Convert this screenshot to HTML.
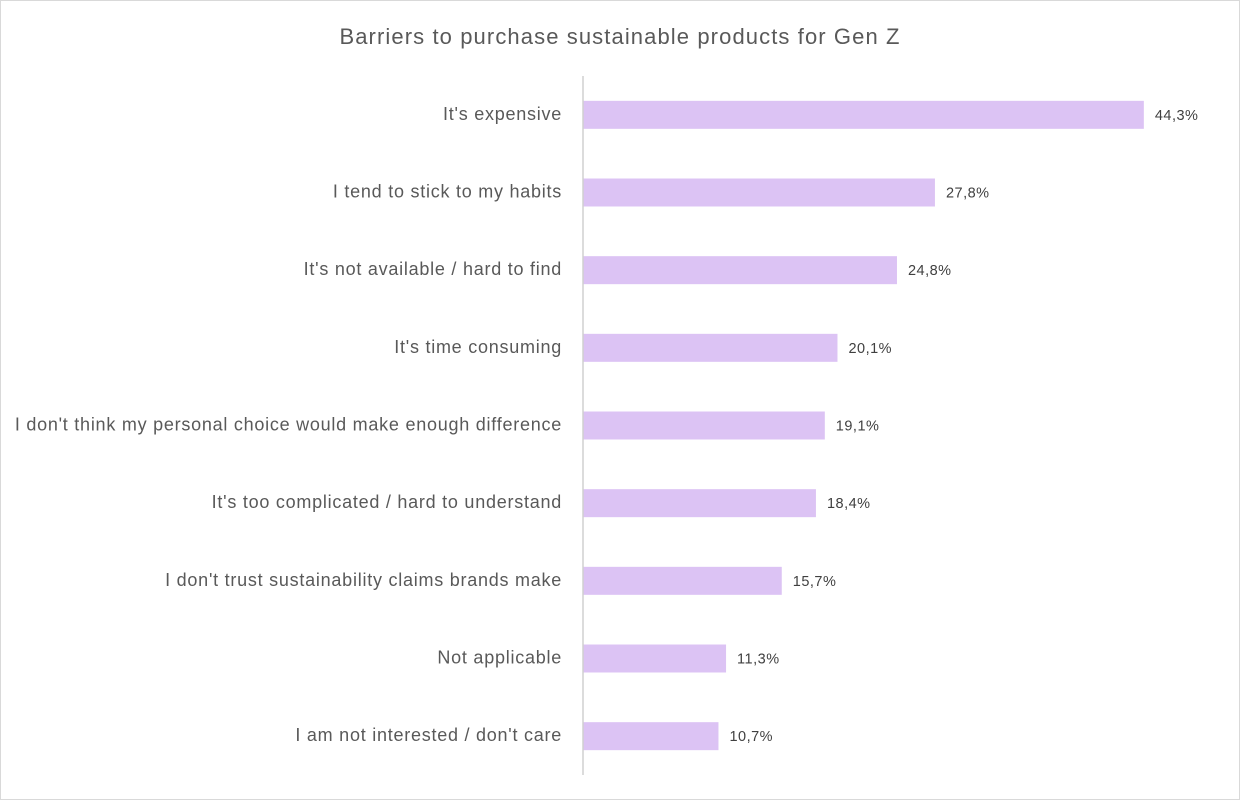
<!DOCTYPE html>
<html><head><meta charset="utf-8"><style>
body{margin:0;background:#fff;}
#wrap{position:relative;width:1240px;height:800px;overflow:hidden;font-family:"Liberation Sans",sans-serif;}
#frame{position:absolute;left:0;top:0;width:1238px;height:798px;border:1px solid #d9d9d9;}
</style></head><body>
<div id="wrap">
<div id="frame"></div>
<svg id="svg" width="1240" height="800" style="position:absolute;left:0;top:0">
<text x="620" y="44" text-anchor="middle" font-size="22" letter-spacing="1.1" fill="#595959" font-family="Liberation Sans, sans-serif">Barriers to purchase sustainable products for Gen Z</text>
<g id="bars"></g>
<line x1="583" y1="76" x2="583" y2="775" stroke="#d0d0d0" stroke-width="1.5"/>
</svg>
</div>
<script>
const categories=["It's expensive","I tend to stick to my habits","It's not available / hard to find","It's time consuming","I don't think my personal choice would make enough difference","It's too complicated / hard to understand","I don't trust sustainability claims brands make","Not applicable","I am not interested / don't care"];
const values=[44.3,27.8,24.8,20.1,19.1,18.4,15.7,11.3,10.7];
const labels=["44,3%","27,8%","24,8%","20,1%","19,1%","18,4%","15,7%","11,3%","10,7%"];
const x0=583,pxPer=12.66,plotTop=76,plotBottom=775,barH=28;
const step=(plotBottom-plotTop)/categories.length;
const xs=v=>x0+v*pxPer;
const ys=i=>plotTop+step*(i+0.5);
const g=document.getElementById('bars');
const NS='http://www.w3.org/2000/svg';
categories.forEach((c,i)=>{
 const cy=ys(i);
 const r=document.createElementNS(NS,'rect');
 r.setAttribute('x',x0);r.setAttribute('y',cy-barH/2);
 r.setAttribute('width',xs(values[i])-x0);r.setAttribute('height',barH);
 r.setAttribute('fill','#dcc3f4');
 
 
 g.appendChild(r);
 const t=document.createElementNS(NS,'text');
 t.setAttribute('x',x0-21);t.setAttribute('y',cy+5);
 t.setAttribute('text-anchor','end');t.setAttribute('font-size','18');t.setAttribute('letter-spacing','0.75');t.setAttribute('fill','#595959');
 t.textContent=c;
 
 
 g.appendChild(t);
 const v=document.createElementNS(NS,'text');
 v.setAttribute('x',xs(values[i])+11);v.setAttribute('y',cy+5);
 v.setAttribute('font-size','14.5');v.setAttribute('letter-spacing','0.5');v.setAttribute('fill','#404040');
 v.textContent=labels[i];
 
 
 g.appendChild(v);
});
</script>
</body></html>
